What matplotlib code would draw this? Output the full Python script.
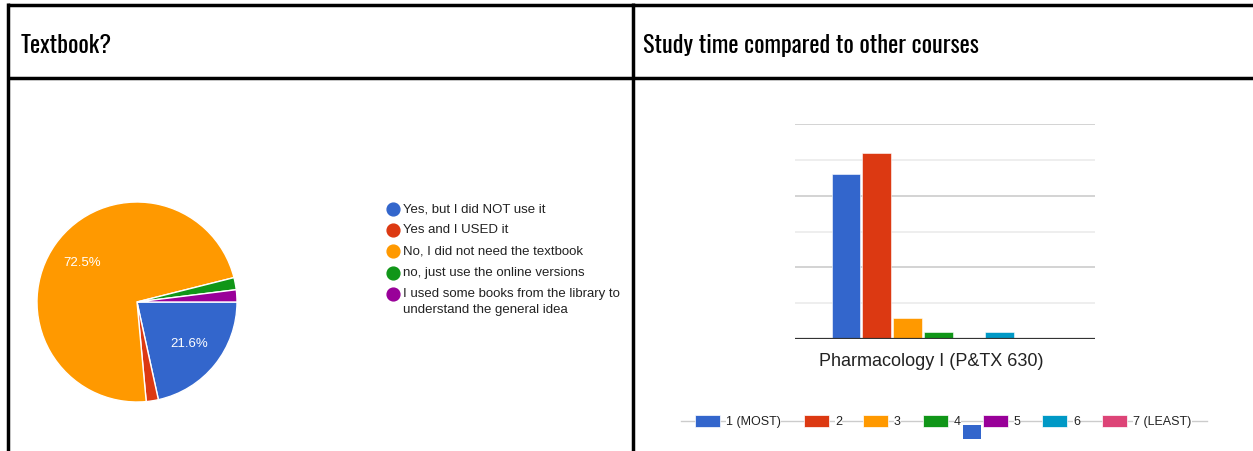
import matplotlib
matplotlib.use("Agg")
import matplotlib.pyplot as plt
from matplotlib.patches import Rectangle

# textbook question (pie)
pie_labels = ["Yes, but I did NOT use it", "Yes and I USED it", "No, I did not need the textbook",
              "no, just use the online versions", "I used some books from the library to\nunderstand the general idea"]
pie_counts = [11, 1, 37, 1, 1]
pie_colors = ["#3366cc", "#dc3912", "#ff9900", "#109618", "#990099"]

# study time question (bars)
course = "Pharmacology I (P&TX 630)"
rank_labels = ["1 (MOST)", "2", "3", "4", "5", "6", "7 (LEAST)"]
rank_counts = [23, 26, 3, 1, 0, 1, 0]
rank_colors = ["#3366cc", "#dc3912", "#ff9900", "#109618", "#990099", "#0099c6", "#dd4477"]

W, H = 1253, 451
fig = plt.figure(figsize=(W / 100, H / 100), dpi=100)
fig.patch.set_facecolor("white")

def px_axes(left, top, width, height):
    return fig.add_axes([left / W, (H - top - height) / H, width / W, height / H])

title_font = dict(family=["Oswald", "Roboto Condensed", "Liberation Sans Narrow", "DejaVu Sans"],
                  fontstretch="condensed", fontweight="medium")
body_font = ["Liberation Sans", "DejaVu Sans"]

# --- pie ---
ax1 = px_axes(36, 201, 202, 202)
wedges, _, autotexts = ax1.pie(pie_counts, colors=pie_colors, startangle=0, counterclock=False,
                               radius=1, pctdistance=0.67,
                               autopct=lambda p: f"{p:.1f}%" if p > 5 else "",
                               wedgeprops=dict(edgecolor="white", linewidth=1),
                               textprops=dict(color="white", fontsize=9.5, family=body_font))
ax1.set_xlim(-1.01, 1.01)
ax1.set_ylim(-1.01, 1.01)

# --- bars ---
ax2 = px_axes(795, 124, 300, 215)
step = 0.1023
for i, (v, c) in enumerate(zip(rank_counts, rank_colors)):
    ax2.bar((i - 3) * step, v, width=step * 0.94, color=c, edgecolor="white", linewidth=0.4, zorder=3)
ax2.set_xlim(-0.477, 0.523)
ax2.set_ylim(0, 30)
ax2.set_yticks([10, 20, 30])
ax2.set_yticks([5, 15, 25], minor=True)
ax2.grid(axis="y", which="major", color="#cccccc", linewidth=1.2, zorder=0)
ax2.grid(axis="y", which="minor", color="#ebebeb", linewidth=1.2, zorder=0)
ax2.axhline(0, color="#333333", linewidth=1.6, zorder=4)
ax2.tick_params(left=False, bottom=False, labelleft=False, labelbottom=False, which="both")
for s in ax2.spines.values():
    s.set_visible(False)
ax2.set_xticks([])
ax2.text(-0.023, -0.105, course, transform=ax2.get_xaxis_transform(), ha="center", va="center",
         fontsize=13, color="#222222", family=body_font)

# --- overlay: table lines, titles, legends ---
ov = fig.add_axes([0, 0, 1, 1])
ov.set_xlim(0, W)
ov.set_ylim(H, 0)
ov.axis("off")
lw = 2.5
ov.plot([7.5, W], [4.5, 4.5], color="black", lw=lw, solid_capstyle="butt")
ov.plot([7.5, W], [77.5, 77.5], color="black", lw=lw, solid_capstyle="butt")
ov.plot([7.5, 7.5], [3, H], color="black", lw=lw, solid_capstyle="butt")
ov.plot([632.5, 632.5], [3, H], color="black", lw=lw, solid_capstyle="butt")
ov.text(21, 53, "Textbook?", fontsize=17.5, va="baseline", ha="left", color="black", **title_font)
ov.text(643, 53, "Study time compared to other courses", fontsize=17.5, va="baseline", ha="left",
        color="black", **title_font)

# pie legend
rows = [209, 230, 251, 273, 294]
for y, lab, c in zip(rows, pie_labels, pie_colors):
    ov.scatter([392.5], [y], s=85, color=c, zorder=5)
    ov.text(403, y - 6, lab, fontsize=9.5, color="#222222", va="top", ha="left",
            family=body_font, linespacing=1.45)

# bar legend
ov.plot([681, 1207], [420.5, 420.5], color="#cccccc", lw=1, zorder=1)
rect_x = [695, 804, 863, 923, 983, 1042, 1102]
for x, lab, c in zip(rect_x, rank_labels, rank_colors):
    ov.add_patch(Rectangle((x, 414.5), 25, 12, facecolor=c, edgecolor="white", lw=0.5, zorder=3))
    ov.text(x + 31, 422, lab, fontsize=9, color="#222222", va="center", ha="left",
            family=body_font, zorder=3,
            bbox=dict(facecolor="white", edgecolor="none", pad=0.3))
ov.add_patch(Rectangle((963, 425), 18, 14, facecolor=rank_colors[0], edgecolor="none", zorder=4))

fig.savefig("out.png", dpi=100, facecolor="white")
